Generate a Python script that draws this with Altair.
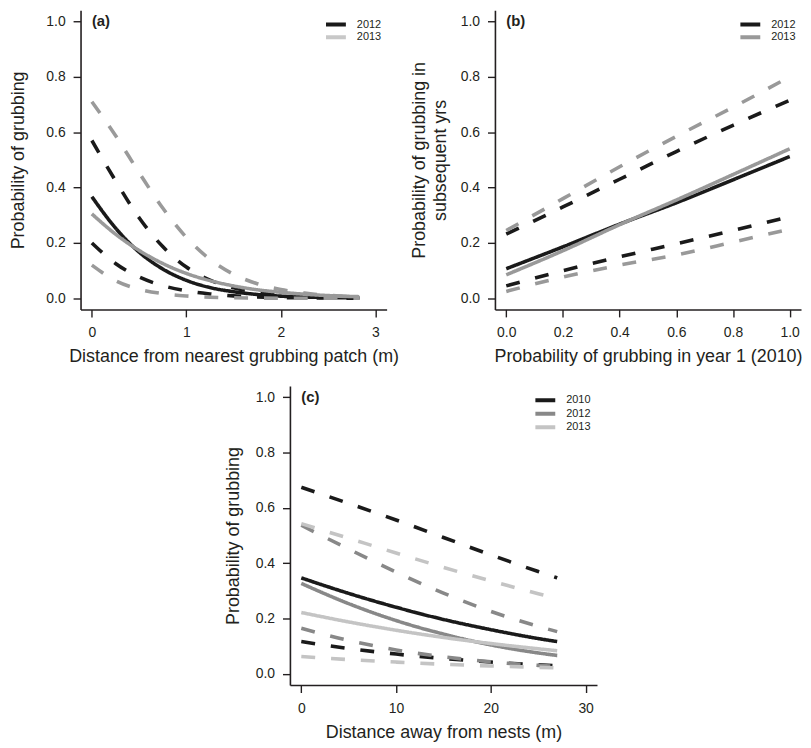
import altair as alt
import pandas as pd

FONT = "Liberation Sans"
BLACK = "#1a1a1a"

# ---------------- Panel (a) ----------------
A_X = [0, 0.25, 0.5, 0.75, 1.0, 1.25, 1.5, 1.75, 2.0, 2.25, 2.5, 2.83]
A_2012_FIT = [0.367, 0.254, 0.167, 0.106, 0.065, 0.039, 0.024, 0.014, 0.008, 0.005, 0.003, 0.0015]
A_2012_HI = [0.57, 0.425, 0.291, 0.187, 0.113, 0.066, 0.038, 0.022, 0.012, 0.007, 0.004, 0.002]
A_2012_LO = [0.20, 0.126, 0.077, 0.046, 0.027, 0.016, 0.009, 0.005, 0.003, 0.002, 0.001, 0.0005]
A_2013_FIT = [0.305, 0.232, 0.173, 0.126, 0.090, 0.064, 0.045, 0.031, 0.022, 0.015, 0.010, 0.006]
A_2013_HI = [0.71, 0.588, 0.454, 0.326, 0.220, 0.141, 0.087, 0.053, 0.032, 0.019, 0.011, 0.005]
A_2013_LO = [0.12, 0.064, 0.033, 0.017, 0.0086, 0.004, 0.002, 0.001, 0.0005, 0.0003, 0.0002, 0.0001]

# ---------------- Panel (b) ----------------
B_X = [0, 0.2, 0.4, 0.6, 0.8, 1.0]
B_2012_FIT = [0.107, 0.186, 0.268, 0.345, 0.428, 0.512]
B_2012_HI = [0.232, 0.33, 0.43, 0.53, 0.625, 0.715]
B_2012_LO = [0.045, 0.10, 0.15, 0.197, 0.245, 0.295]
B_2013_FIT = [0.085, 0.172, 0.266, 0.355, 0.447, 0.54]
B_2013_HI = [0.245, 0.36, 0.475, 0.585, 0.69, 0.80]
B_2013_LO = [0.025, 0.077, 0.12, 0.157, 0.203, 0.25]

# ---------------- Panel (c) ----------------
C_X = [0, 5, 10, 15, 20, 25, 27]
C_2010_FIT = [0.347, 0.291, 0.241, 0.197, 0.160, 0.128, 0.117]
C_2010_HI = [0.674, 0.616, 0.556, 0.493, 0.430, 0.370, 0.347]
C_2010_LO = [0.117, 0.092, 0.072, 0.056, 0.043, 0.033, 0.030]
C_2012_FIT = [0.327, 0.254, 0.193, 0.144, 0.105, 0.076, 0.067]
C_2012_HI = [0.537, 0.451, 0.368, 0.292, 0.226, 0.172, 0.153]
C_2012_LO = [0.165, 0.121, 0.087, 0.062, 0.044, 0.031, 0.027]
C_2013_FIT = [0.222, 0.188, 0.158, 0.132, 0.110, 0.091, 0.084]
C_2013_HI = [0.543, 0.490, 0.437, 0.385, 0.336, 0.290, 0.273]
C_2013_LO = [0.063, 0.052, 0.043, 0.035, 0.029, 0.024, 0.022]

Y_TICKS = [0, 0.2, 0.4, 0.6, 0.8, 1.0]


def build_df(xs, series):
    rows = []
    for (year, kind), ys in series.items():
        for x, y in zip(xs, ys):
            rows.append({"x": x, "y": y, "year": year, "kind": kind})
    return pd.DataFrame(rows)


df_a = build_df(A_X, {("2012", "fit"): A_2012_FIT, ("2012", "hi"): A_2012_HI, ("2012", "lo"): A_2012_LO,
                      ("2013", "fit"): A_2013_FIT, ("2013", "hi"): A_2013_HI, ("2013", "lo"): A_2013_LO})
df_b = build_df(B_X, {("2012", "fit"): B_2012_FIT, ("2012", "hi"): B_2012_HI, ("2012", "lo"): B_2012_LO,
                      ("2013", "fit"): B_2013_FIT, ("2013", "hi"): B_2013_HI, ("2013", "lo"): B_2013_LO})
df_c = build_df(C_X, {("2010", "fit"): C_2010_FIT, ("2010", "hi"): C_2010_HI, ("2010", "lo"): C_2010_LO,
                      ("2012", "fit"): C_2012_FIT, ("2012", "hi"): C_2012_HI, ("2012", "lo"): C_2012_LO,
                      ("2013", "fit"): C_2013_FIT, ("2013", "hi"): C_2013_HI, ("2013", "lo"): C_2013_LO})

DASH = [14, 16]


def panel(df, years, line_cols, legend_cols, xdom, xticks, xfmt, xtitle, ytitle, ytitle_pad,
          label, width, height, legend_y, row_pad):
    x_enc = alt.X("x:Q", scale=alt.Scale(domain=xdom, nice=False, zero=False),
                  axis=alt.Axis(values=xticks, format=xfmt, title=xtitle))
    y_enc = alt.Y("y:Q", scale=alt.Scale(domain=[-0.04, 1.04], nice=False, zero=False),
                  axis=alt.Axis(values=Y_TICKS, format=".1f", title=ytitle, titlePadding=ytitle_pad,
                                labelPadding=8))
    lines = alt.Chart(df).mark_line(strokeWidth=3.6, interpolate="monotone").encode(
        x=x_enc, y=y_enc,
        color=alt.Color("year:N", scale=alt.Scale(domain=years, range=line_cols), legend=None),
        strokeDash=alt.StrokeDash("kind:N", scale=alt.Scale(domain=["fit", "hi", "lo"],
                                                           range=[[1, 0], DASH, DASH]), legend=None),
        order=alt.Order("x:Q"),
    )
    legend_layer = alt.Chart(df[df["kind"] == "fit"]).mark_line(opacity=0).encode(
        x=x_enc, y=y_enc,
        color=alt.Color("year:N", scale=alt.Scale(domain=years, range=legend_cols),
                        legend=alt.Legend(orient="none", legendX=245, legendY=legend_y, title=None,
                                          symbolType="stroke", symbolStrokeWidth=4, symbolSize=400,
                                          symbolOpacity=1, labelFontSize=11, labelFont=FONT,
                                          labelColor="#231f20", labelOffset=9, clipHeight=12,
                                          rowPadding=row_pad, padding=0)),
    )
    lab_df = pd.DataFrame({"x": [0], "y": [1.0], "t": [label]})
    text = alt.Chart(lab_df).mark_text(align="left", baseline="middle", fontWeight="bold",
                                        fontSize=15, font=FONT, color="#231f20").encode(
        x=alt.X("x:Q"), y=alt.Y("y:Q"), text="t:N")
    return alt.layer(lines, legend_layer, text).resolve_scale(
        color="independent", strokeDash="independent").properties(width=width, height=height)


pa = panel(df_a, ["2012", "2013"], [BLACK, "#9a9a9a"], [BLACK, "#c8c8c8"],
           [-0.12, 3.12], [0, 1, 2, 3], "d", "Distance from nearest grubbing patch (m)",
           "Probability of grubbing", 18, "(a)", 308, 301, 8.3, 0.7)
pb = panel(df_b, ["2012", "2013"], [BLACK, "#999999"], [BLACK, "#999999"],
           [-0.04, 1.04], [0, 0.2, 0.4, 0.6, 0.8, 1.0], ".1f", "Probability of grubbing in year 1 (2010)",
           ["Probability of grubbing in", "subsequent yrs"], 11, "(b)", 308, 301, 8.3, 0.7)
pc = panel(df_c, ["2010", "2012", "2013"], [BLACK, "#888888", "#c4c4c4"], [BLACK, "#888888", "#c4c4c4"],
           [-1.2, 31.2], [0, 10, 20, 30], "d", "Distance away from nests (m)",
           "Probability of grubbing", 13, "(c)", 309, 301, 8.4, 1.6)

spacer = alt.Chart(pd.DataFrame({"v": [0]})).mark_point(opacity=0).encode(
    x=alt.X("v:Q", axis=None), y=alt.Y("v:Q", axis=None)).properties(width=200, height=301)

top = alt.hconcat(pa, pb, spacing=109, bounds="flush").resolve_scale(
    color="independent", strokeDash="independent")
bottom = alt.hconcat(spacer, pc, spacing=10.7, bounds="flush").resolve_scale(
    color="independent", strokeDash="independent")

chart = alt.vconcat(top, bottom, spacing=20).resolve_scale(
    color="independent", strokeDash="independent"
).properties(
    padding={"left": 2, "top": 0, "right": 0, "bottom": 5}
).configure(font=FONT).configure_view(stroke=None).configure_axis(
    grid=False, domainColor="#231f20", domainWidth=1.6, tickColor="#231f20", tickWidth=1.4,
    tickSize=7.5, labelFont=FONT, labelFontSize=14, labelColor="#231f20", titleFont=FONT,
    titleFontSize=18, titleFontWeight="normal", titleColor="#231f20", titleLineHeight=21,
).configure_axisX(labelPadding=9, titlePadding=8)

chart.save("out.html", embed_options={"renderer": "svg", "actions": False})
